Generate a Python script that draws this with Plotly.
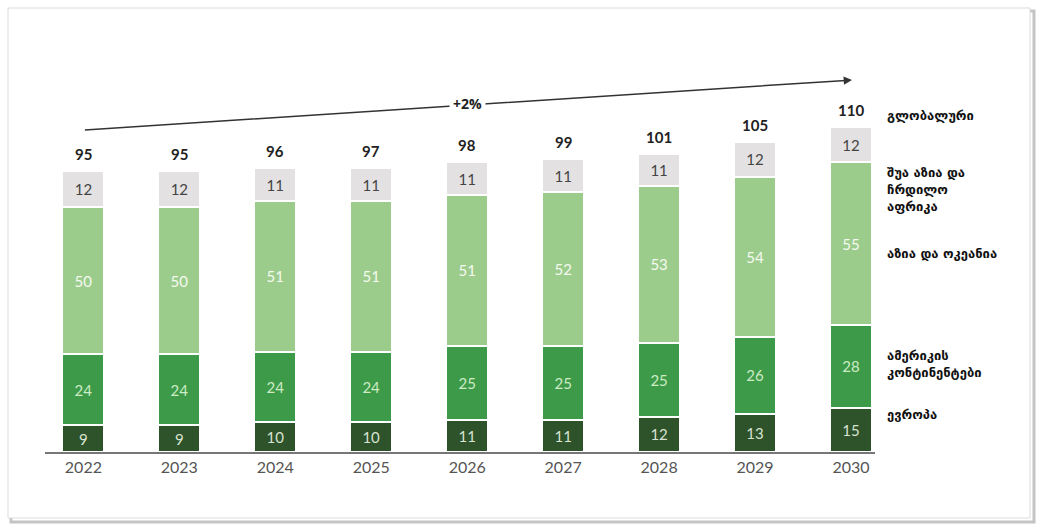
import plotly.graph_objects as go

years = ["2022", "2023", "2024", "2025", "2026", "2027", "2028", "2029", "2030"]
europe = [9, 9, 10, 10, 11, 11, 12, 13, 15]
americas = [24, 24, 24, 24, 25, 25, 25, 26, 28]
asia_oceania = [50, 50, 51, 51, 51, 52, 53, 54, 55]
mena = [12, 12, 11, 11, 11, 11, 11, 12, 12]
totals = [95, 95, 96, 97, 98, 99, 101, 105, 110]
growth_label = "+2%"

series_names = ["ევროპა", "ამერიკის<br>კონტინენტები", "აზია და ოკეანია", "შუა აზია და<br>ჩრდილო<br>აფრიკა"]
global_label = "გლობალური"

colors = ["#2e5229", "#3d9a48", "#9ccc8c", "#e3e1e1"]
text_colors = ["#d8e2d2", "#cdebc5", "#f4faf0", "#444444"]

W, H = 1039, 525
L, R, T, B = 45, 164, 20, 73
plot_h = H - T - B
px_per_unit = 2.955
ymax = plot_h / px_per_unit

def ydata(py):
    return (H - B - py) / px_per_unit

def xpaper(px):
    return (px - L) / (W - L - R)

def ypaper(py):
    return (H - B - py) / plot_h

fig = go.Figure()
for vals, name, c, tc in zip([europe, americas, asia_oceania, mena], series_names, colors, text_colors):
    fig.add_trace(go.Bar(
        x=years, y=vals, name=name, marker=dict(color=c, line=dict(color="white", width=2)),
        text=vals, texttemplate="%{text}", textposition="inside", insidetextanchor="middle",
        textangle=0, textfont=dict(color=tc, size=15, family="Lato, Open Sans, sans-serif"),
        width=0.44, hoverinfo="skip"))

annotations = []
for i, tot in enumerate(totals):
    top = europe[i] + americas[i] + asia_oceania[i] + mena[i]
    annotations.append(dict(x=i, y=top, xref="x", yref="y", text=f"<b>{tot}</b>", showarrow=False,
                            yanchor="bottom", yshift=6,
                            font=dict(size=15, color="#222", family="Lato, Open Sans, sans-serif")))

# growth arrow
annotations.append(dict(x=8.01, y=ydata(80), ax=0, ay=ydata(130), xref="x", yref="y",
                        axref="x", ayref="y", showarrow=True, arrowhead=2, arrowsize=1.1,
                        arrowwidth=1.5, arrowcolor="#333", text=""))
annotations.append(dict(x=4, y=ydata(103), xref="x", yref="y", text=f"<b>{growth_label}</b>",
                        showarrow=False, bgcolor="white", borderpad=3,
                        font=dict(size=14, color="#222", family="Open Sans, sans-serif")))

# right-side labels
label_font = dict(size=13, color="#111", family="DejaVu Sans")
right_labels = [(global_label, 115), (series_names[3], 189), (series_names[2], 253),
                (series_names[1], 364), (series_names[0], 414)]
for txt, py in right_labels:
    annotations.append(dict(xref="paper", yref="paper", x=xpaper(885), y=ypaper(py),
                            text=f"<b>{txt}</b>",
                            showarrow=False, xanchor="left", yanchor="middle", align="left",
                            font=label_font))

shapes = [
    dict(type="rect", xref="paper", yref="paper", layer="below",
         x0=xpaper(11), x1=xpaper(1034), y0=ypaper(11), y1=ypaper(522),
         line=dict(color="#c4c4c4", width=3), fillcolor="rgba(0,0,0,0)"),
    dict(type="rect", xref="paper", yref="paper", layer="below",
         x0=xpaper(8), x1=xpaper(1030), y0=ypaper(8), y1=ypaper(518),
         line=dict(color="#dcdcdc", width=1), fillcolor="white"),
]

fig.update_layout(
    width=W, height=H, margin=dict(l=L, r=R, t=T, b=B),
    barmode="stack", showlegend=False, plot_bgcolor="rgba(0,0,0,0)", paper_bgcolor="white",
    annotations=annotations, shapes=shapes, uniformtext=dict(mode=False),
    xaxis=dict(type="category", range=[-0.4, 8.25], showgrid=False, showline=True,
               linecolor="#777", linewidth=1.5, ticks="", zeroline=False,
               tickfont=dict(size=16, color="#555", family="Lato, Open Sans, sans-serif")),
    yaxis=dict(range=[0, ymax], visible=False, showgrid=False, zeroline=False),
)

fig.write_html("out.html")
